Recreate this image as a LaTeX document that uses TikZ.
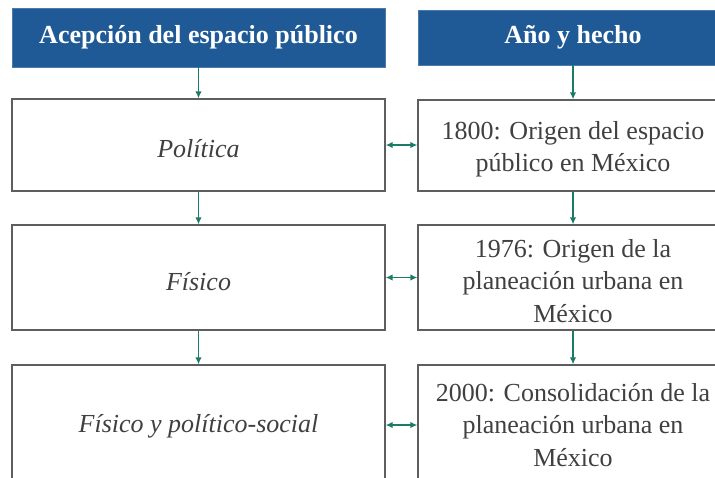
\documentclass[tikz,border=0pt]{standalone}
\usepackage{fontspec}
\setmainfont{Liberation Serif}
\usetikzlibrary{arrows.meta}
\definecolor{hdrblue}{HTML}{1F5A96}
\definecolor{arrteal}{HTML}{1B7A68}
\definecolor{boxgray}{HTML}{5E5E5E}
\definecolor{txtgray}{HTML}{404040}
\begin{document}
\begin{tikzpicture}[x=1pt,y=-1pt,
  hdr/.style={draw=hdrblue!80!white, line width=0.6pt, fill=hdrblue, text=white, font=\fontsize{26}{30}\selectfont\bfseries, inner sep=0pt},
  stepbox/.style={draw=boxgray, line width=1.3pt, fill=white, inner sep=0pt},
  boxtext/.style={text=txtgray, align=center, inner sep=0pt, font=\fontsize{26}{32.5}\selectfont},
  conn/.style={draw=arrteal, line width=1.7pt, -{Latex[length=7pt,width=6.5pt]}},
  dconn/.style={draw=arrteal, line width=1.7pt, {Latex[length=7pt,width=6.5pt]}-{Latex[length=7pt,width=6.5pt]}}]
\useasboundingbox (0,0) rectangle (715,477);
\begin{scope}
\clip (0,0) rectangle (715,477);
\node[hdr, minimum width=373pt, minimum height=59pt] (hl) at (198.5,37.5) {Acepción del espacio público};
\node[hdr, minimum width=310pt, minimum height=55pt] (hr) at (573,37.5) {Año y hecho};
\node[stepbox, minimum width=373pt, minimum height=92pt] (l1) at (198.5,145) {};
\node[stepbox, minimum width=373pt, minimum height=105pt] (l2) at (198.5,277.5) {};
\node[stepbox, minimum width=373pt, minimum height=116pt] (l3) at (198.5,423) {};
\node[stepbox, minimum width=310pt, minimum height=91pt] (r1) at (573,145.5) {};
\node[stepbox, minimum width=310pt, minimum height=105pt] (r2) at (573,277.5) {};
\node[stepbox, minimum width=310pt, minimum height=116pt] (r3) at (573,423) {};
\node[boxtext] (l1t) at ([yshift=-3.5pt]l1.center) {\itshape Política};
\node[boxtext] (l2t) at ([yshift=-4pt]l2.center) {\itshape Físico};
\node[boxtext] (l3t) at ([yshift=-3pt]l3.center) {\itshape Físico y político-social};
\node[boxtext] (r1t) at ([yshift=-3.5pt]r1.center) {1800: Origen del espacio\\público en México};
\node[boxtext] (r2t) at ([yshift=-3.5pt]r2.center) {1976: Origen de la\\planeación urbana en\\México};
\node[boxtext] (r3t) at ([yshift=-2pt]r3.center) {2000: Consolidación de la\\planeación urbana en\\México};
\draw[conn] (hl.south) -- (l1.north);
\draw[conn] (l1.south) -- (l2.north);
\draw[conn] (l2.south) -- (l3.north);
\draw[conn] (hr.south) -- (r1.north);
\draw[conn] (r1.south) -- (r2.north);
\draw[conn] (r2.south) -- (r3.north);
\draw[dconn] (l1.east) -- (l1.east -| r1.west);
\draw[dconn] (l2.east) -- (l2.east -| r2.west);
\draw[dconn] ([yshift=-2pt]l3.east) -- ([yshift=-2pt]l3.east -| r3.west);
\end{scope}
\end{tikzpicture}
\end{document}
